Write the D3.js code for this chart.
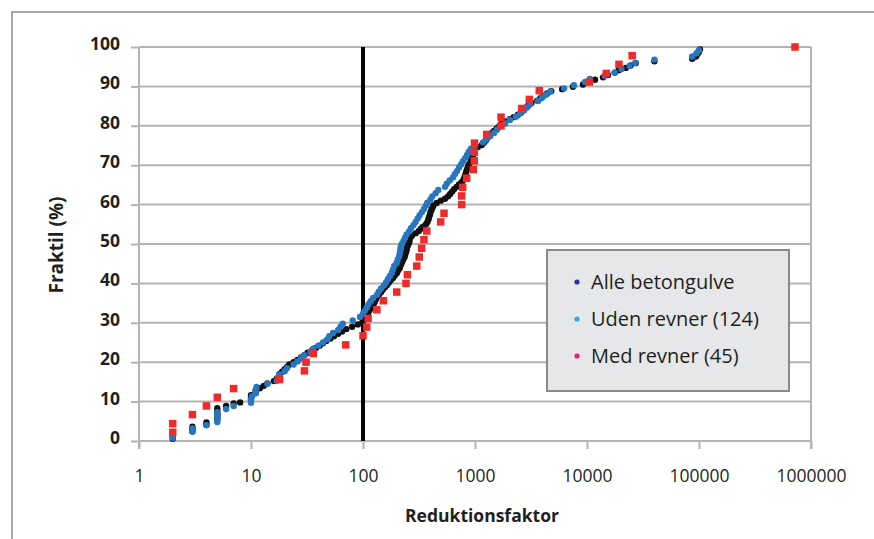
<!DOCTYPE html>
<html>
<head>
<meta charset="utf-8">
<script src="https://cdn.jsdelivr.net/npm/d3@7"></script>
<style>
  html, body { margin: 0; padding: 0; background: #fff; }
  svg { display: block; }
  text { font-family: "Open Sans", "Noto Sans", sans-serif; fill: #231f20; }
</style>
</head>
<body>
<svg id="chart" width="874" height="539"></svg>
<script>
// ---------- data ----------
const xTicks = [1, 10, 100, 1000, 10000, 100000, 1000000];
const yTicks = [0, 10, 20, 30, 40, 50, 60, 70, 80, 90, 100];
const legendLabels = ["Alle betongulve", "Uden revner (124)", "Med revner (45)"];
const thresholdLine = [[100, 0], [100, 100]];

// Alle betongulve: [reduktionsfaktor, fraktil %]
const alleBetongulve = [
  [2,0.6],[2,1.2],[2,1.8],[3,2.4],[3,3.0],[3,3.6],[4,4.1],[4,4.7],[5,5.3],[5,5.9],
  [5,6.5],[5,7.1],[5,7.7],[5,8.3],[6,8.9],[7,9.5],[8,9.8],[10,10.4],[10,11.0],[10,11.6],
  [11,12.2],[11,12.8],[12,13.4],[13,14.0],[14,14.6],[16,15.2],[17,15.8],[18,16.4],[18,17.0],[19,17.6],
  [20,18.2],[21,18.8],[22,19.4],[24,20.0],[26,20.6],[28,21.2],[30,21.8],[32,22.4],[35,23.0],[38,23.6],
  [41,24.2],[44,24.8],[47,25.4],[51,26.0],[55,26.6],[60,27.2],[65,27.8],[71,28.4],[80,29.0],[90,29.6],
  [99,30.2],[102,30.8],[104,31.4],[107,32.0],[111,32.5],[114,33.1],[118,33.7],[121,34.3],[125,34.9],[128,35.5],
  [131,36.1],[133,36.6],[139,37.2],[145,37.8],[150,38.4],[157,39.0],[164,39.6],[170,40.2],[177,40.8],[185,41.4],
  [192,42.0],[200,42.6],[205,43.2],[212,43.8],[215,44.4],[220,45.0],[225,45.6],[230,46.2],[235,46.7],[238,47.3],
  [242,47.9],[245,48.5],[247,49.1],[252,49.7],[258,50.3],[260,50.9],[263,51.5],[273,52.1],[295,52.7],[315,53.3],
  [329,53.9],[343,54.4],[365,55.0],[376,55.6],[384,56.2],[388,56.8],[396,57.4],[400,58.0],[408,58.6],[417,59.2],
  [425,59.8],[455,60.4],[495,61.0],[540,61.5],[575,62.1],[600,62.7],[625,63.3],[650,63.9],[685,64.5],[720,65.1],
  [760,65.7],[790,66.3],[805,66.9],[820,67.5],[830,68.0],[840,68.6],[855,69.2],[870,69.8],[890,70.4],[920,71.0],
  [935,71.6],[955,72.2],[975,72.8],[985,73.4],[1000,74.0],[1060,74.6],[1150,75.1],[1200,75.7],[1250,76.3],[1290,76.9],
  [1340,77.5],[1400,78.1],[1480,78.7],[1560,79.3],[1650,79.9],[1710,80.5],[1860,81.1],[2050,81.7],[2220,82.2],[2420,82.8],
  [2580,83.4],[2700,84.0],[2820,84.6],[3000,85.2],[3190,85.8],[3600,86.4],[3840,87.0],[4080,87.6],[4400,88.2],[4790,88.8],
  [6000,89.3],[7500,89.9],[9200,90.5],[10400,91.1],[11800,91.7],[13900,92.3],[15400,92.9],[17700,93.5],[19200,94.1],[22200,94.7],
  [24500,95.3],[27200,95.9],[40000,96.4],[87000,97.0],[94000,97.6],[97000,98.2],[100000,98.8],[102000,99.4],[720000,100]
];

// Uden revner (124)
const udenRevner = [
  [2,0.8],[2,1.6],[3,2.4],[3,3.2],[4,4.0],[5,4.8],[5,5.6],[5,6.5],[5,7.3],[6,8.1],
  [7,8.9],[10,9.7],[10,10.5],[10.2,11.3],[11,12.1],[11,12.9],[11.2,13.7],[14,14.5],[17,15.3],[17.5,16.1],
  [18,16.9],[20,17.7],[21,18.5],[24,19.4],[26,20.2],[28,21.0],[30,21.8],[34,22.6],[36,23.4],[40,24.2],
  [44,25.0],[48,25.8],[50,26.6],[54,27.4],[60,28.2],[63,29.0],[66,29.8],[81,30.6],[94,31.5],[100,32.3],
  [104,33.1],[108,33.9],[112,34.7],[117,35.5],[123,36.3],[133,37.1],[138,37.9],[145,38.7],[154,39.5],[161,40.3],
  [167,41.1],[174,41.9],[181,42.7],[185,43.5],[190,44.4],[200,45.2],[204,46.0],[210,46.8],[213,47.6],[215,48.4],
  [217,49.2],[222,50.0],[230,50.8],[237,51.6],[245,52.4],[258,53.2],[268,54.0],[282,54.8],[295,55.6],[308,56.5],
  [320,57.3],[336,58.1],[350,58.9],[365,59.7],[375,60.5],[400,61.3],[415,62.1],[445,62.9],[470,63.7],[540,64.5],
  [560,65.3],[595,66.1],[635,66.9],[660,67.7],[690,68.5],[720,69.4],[750,70.2],[780,71.0],[815,71.8],[850,72.6],
  [880,73.4],[920,74.2],[1000,75.0],[1180,75.8],[1270,76.6],[1370,77.4],[1480,78.2],[1570,79.0],[1680,79.8],[1860,80.6],
  [2050,81.5],[2320,82.3],[2520,83.1],[2740,83.9],[2930,84.7],[3110,85.5],[3660,86.3],[3970,87.1],[4300,87.9],[4700,88.7],
  [6250,89.5],[7650,90.3],[9600,91.1],[10600,91.9],[14400,92.7],[17700,93.5],[20300,94.4],[24000,95.2],[27000,96.0],[40000,96.8],
  [87000,97.6],[95000,98.4],[100000,99.2]
];

// Med revner (45)
const medRevner = [
  [2,2.2],[2,4.4],[3,6.7],[4,8.9],[5,11.1],[7,13.3],[18,15.6],[30,17.8],[31,20.0],[36,22.2],
  [70,24.4],[100,26.7],[108,28.9],[111,31.1],[133,33.3],[152,35.6],[200,37.8],[242,40.0],[249,42.2],[302,44.4],
  [318,46.7],[334,48.9],[350,51.1],[371,53.3],[494,55.6],[529,57.8],[761,60.0],[761,62.2],[776,64.4],[843,66.7],
  [966,68.9],[986,71.1],[986,73.3],[990,75.6],[1272,77.8],[1708,80.0],[1708,82.2],[2612,84.4],[3055,86.7],[3750,88.9],
  [10500,91.1],[14860,93.3],[19300,95.6],[25300,97.8],[720000,100]
];

// ---------- chart ----------
const svg = d3.select("#chart");
const plot = { left: 139, right: 811, top: 47, bottom: 441 };

const x = d3.scaleLog().domain([1, 1000000]).range([plot.left, plot.right]);
const y = d3.scaleLinear().domain([0, 100]).range([plot.bottom, plot.top]);

const gridColor = "#b4b4b4";

// outer frame (left & top edges visible)
svg.append("rect")
  .attr("x", 12).attr("y", 12).attr("width", 900).attr("height", 600)
  .attr("fill", "none").attr("stroke", "#8c8c8c").attr("stroke-width", 1.5);

// horizontal gridlines
svg.append("g").selectAll("line").data(yTicks).join("line")
  .attr("x1", plot.left).attr("x2", plot.right)
  .attr("y1", d => y(d)).attr("y2", d => y(d))
  .attr("stroke", gridColor).attr("stroke-width", 2);

// right border of plot
svg.append("line")
  .attr("x1", plot.right).attr("x2", plot.right)
  .attr("y1", plot.top).attr("y2", plot.bottom + 8)
  .attr("stroke", gridColor).attr("stroke-width", 2);

// y axis
const yAxis = svg.append("g")
  .attr("transform", `translate(${plot.left},0)`)
  .call(d3.axisLeft(y).tickValues(yTicks).tickSize(8).tickPadding(11).tickFormat(d => d));
yAxis.select(".domain").remove();
yAxis.append("line")
  .attr("x1", 0).attr("x2", 0).attr("y1", plot.top).attr("y2", plot.bottom + 8)
  .attr("stroke", gridColor).attr("stroke-width", 2);
yAxis.selectAll(".tick line").attr("stroke", gridColor).attr("stroke-width", 2);
yAxis.selectAll(".tick text")
  .attr("dy", "0.14em")
  .style("font-family", '"Open Sans", sans-serif')
  .style("font-size", "17.5px").style("font-weight", "bold").style("fill", "#231f20");

// x axis
const xAxis = svg.append("g")
  .attr("transform", `translate(0,${plot.bottom})`)
  .call(d3.axisBottom(x).tickValues(xTicks).tickSize(8).tickPadding(21).tickFormat(d => String(d)));
xAxis.select(".domain").remove();
xAxis.selectAll(".tick line").attr("stroke", gridColor).attr("stroke-width", 2);
xAxis.selectAll(".tick text")
  .style("font-family", '"Open Sans", sans-serif')
  .style("font-size", "17.5px").style("fill", "#231f20");

// axis titles
svg.append("text")
  .attr("x", 482).attr("y", 522)
  .attr("text-anchor", "middle")
  .style("font-size", "17.5px").style("font-weight", "bold")
  .text("Reduktionsfaktor");

svg.append("text")
  .attr("transform", "translate(63,245) rotate(-90)")
  .attr("text-anchor", "middle")
  .style("font-size", "19px").style("font-weight", "bold")
  .text("Fraktil (%)");

// threshold line at factor 100
svg.append("path")
  .datum(thresholdLine)
  .attr("d", d3.line().x(d => x(d[0])).y(d => y(d[1])))
  .attr("stroke", "#000").attr("stroke-width", 4).attr("fill", "none");

// series
svg.append("g").selectAll("circle").data(alleBetongulve).join("circle")
  .attr("cx", d => x(d[0])).attr("cy", d => y(d[1])).attr("r", 3.2)
  .attr("fill", "#111");

svg.append("g").selectAll("circle").data(udenRevner).join("circle")
  .attr("cx", d => x(d[0])).attr("cy", d => y(d[1])).attr("r", 3.2)
  .attr("fill", "#2777c0");

const sq = 7.5;
svg.append("g").selectAll("rect").data(medRevner).join("rect")
  .attr("x", d => x(d[0]) - sq / 2).attr("y", d => y(d[1]) - sq / 2)
  .attr("width", sq).attr("height", sq)
  .attr("fill", "#ee2a2a");

// legend
const legend = svg.append("g");
legend.append("rect")
  .attr("x", 547).attr("y", 250).attr("width", 242).attr("height", 141)
  .attr("fill", "#e6e7e9").attr("stroke", "#8a8a8a").attr("stroke-width", 2);
const legendColors = ["#2e3192", "#29abe2", "#ec1c7b"];
const rows = legend.selectAll("g.row").data(legendLabels).join("g")
  .attr("class", "row")
  .attr("transform", (d, i) => `translate(577,${282 + i * 37})`);
rows.append("circle").attr("r", 2.6).attr("fill", (d, i) => legendColors[i]);
rows.append("text")
  .attr("x", 14).attr("y", 7)
  .style("font-size", "20px")
  .text(d => d);
</script>
</body>
</html>
